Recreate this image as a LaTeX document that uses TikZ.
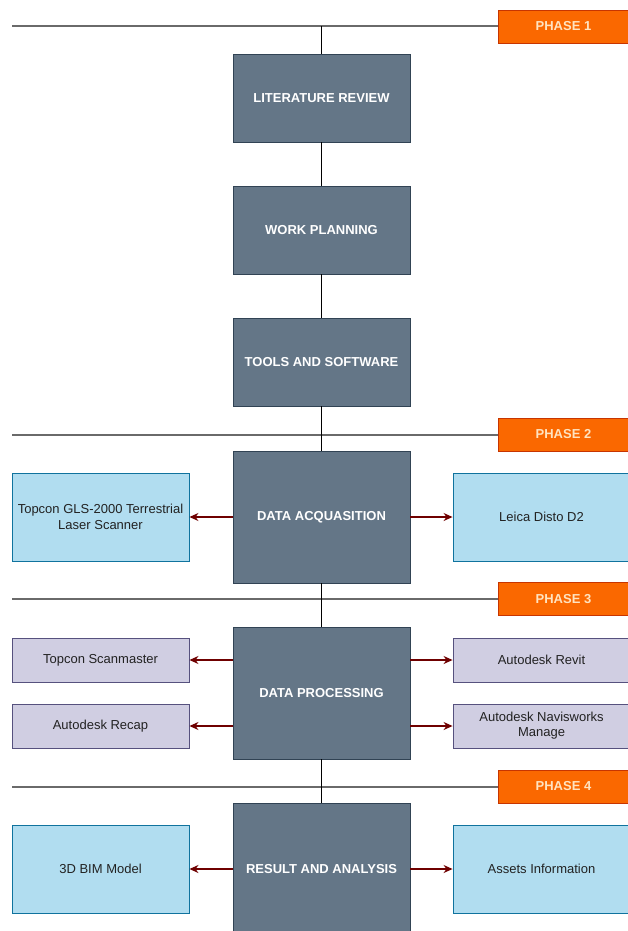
\documentclass[tikz,border=0pt]{standalone}
\usepackage{fontspec}
\setmainfont{Liberation Sans}
\usetikzlibrary{arrows.meta}
\definecolor{darkfill}{HTML}{647687}
\definecolor{darkline}{HTML}{314354}
\definecolor{bluefill}{HTML}{B1DDF0}
\definecolor{blueline}{HTML}{10739E}
\definecolor{lavfill}{HTML}{D0CEE2}
\definecolor{lavline}{HTML}{56517E}
\definecolor{orangefill}{HTML}{FA6800}
\definecolor{orangeline}{HTML}{C73500}
\definecolor{phasetext}{HTML}{FFE3C0}
\definecolor{arrowred}{HTML}{6F0000}
\definecolor{phaseline}{HTML}{6A6A6A}
\definecolor{sidetext}{HTML}{222222}
\begin{document}
\begin{tikzpicture}[x=1pt,y=-1pt,
  mainbox/.style={draw=darkline, fill=darkfill, line width=0.9pt, minimum width=177pt,
    text=white, font=\bfseries\fontsize{13}{16}\selectfont, inner sep=0pt, align=center},
  bluebox/.style={draw=blueline, fill=bluefill, line width=0.9pt, minimum width=177pt,
    minimum height=88pt, text=sidetext, font=\fontsize{13}{16}\selectfont, inner sep=0pt, align=center},
  lavbox/.style={draw=lavline, fill=lavfill, line width=0.9pt, minimum width=177pt,
    minimum height=44pt, text=sidetext, font=\fontsize{13}{15}\selectfont, inner sep=0pt, align=center},
  phasebox/.style={draw=orangeline, fill=orangefill, line width=0.9pt, minimum width=132pt,
    minimum height=33pt, text=phasetext, font=\bfseries\fontsize{13}{15}\selectfont, inner sep=0pt, anchor=west},
  phaserule/.style={draw=phaseline, line width=2pt},
  link/.style={draw=black, line width=1.2pt},
  outarrow/.style={draw=arrowred, line width=1.2pt, -{Stealth[length=9pt,width=8pt]}}
]
\useasboundingbox (0,0) rectangle (628,931);

% phase markers
\node[phasebox] (p1) at (498,26.5) {\hspace*{-2pt}PHASE 1};
\node[phasebox] (p2) at (498,434.5) {\hspace*{-2pt}PHASE 2};
\node[phasebox] (p3) at (498,599) {\hspace*{-2pt}PHASE 3};
\node[phasebox] (p4) at (498,786.5) {\hspace*{-2pt}PHASE 4};
\coordinate (l1) at (12,26.5);
\coordinate (l2) at (12,434.5);
\coordinate (l3) at (12,599);
\coordinate (l4) at (12,786.5);
\draw[phaserule] (l1) -- (p1.west);
\draw[phaserule] (l2) -- (p2.west);
\draw[phaserule] (l3) -- (p3.west);
\draw[phaserule] (l4) -- (p4.west);

% main boxes
\node[mainbox, minimum height=88pt] (lit) at (321.5,98) {LITERATURE REVIEW};
\node[mainbox, minimum height=88pt] (wp) at (321.5,230) {WORK PLANNING};
\node[mainbox, minimum height=88pt] (tools) at (321.5,362) {TOOLS AND SOFTWARE};
\node[mainbox, minimum height=132pt] (da) at (321.5,517) {DATA ACQUASITION};
\node[mainbox, minimum height=132pt] (dp) at (321.5,693) {DATA PROCESSING};
\node[mainbox, minimum height=132pt] (ra) at (321.5,869) {RESULT AND ANALYSIS};

\coordinate (top) at (321.5,26.5);
\draw[link] (top) -- (lit.north);
\draw[link] (lit) -- (wp);
\draw[link] (wp) -- (tools);
\draw[link] (tools) -- (da);
\draw[link] (da) -- (dp);
\draw[link] (dp) -- (ra);

% side boxes
\node[bluebox] (gls) at (100.5,517) {Topcon GLS-2000 Terrestrial\\Laser Scanner};
\node[bluebox] (leica) at (541.5,517) {Leica Disto D2};
\node[lavbox] (sm) at (100.5,660) {Topcon Scanmaster};
\node[lavbox] (rc) at (100.5,726) {Autodesk Recap};
\node[lavbox] (rv) at (541.5,660) {Autodesk Revit};
\node[lavbox] (nw) at (541.5,726) {Autodesk Navisworks\\Manage};
\node[bluebox] (bim) at (100.5,869) {3D BIM Model};
\node[bluebox] (ai) at (541.5,869) {Assets Information};

\draw[outarrow] (da.west) -- (gls.east);
\draw[outarrow] (da.east) -- (leica.west);
\draw[outarrow] (dp.west |- sm.east) -- (sm.east);
\draw[outarrow] (dp.west |- rc.east) -- (rc.east);
\draw[outarrow] (dp.east |- rv.west) -- (rv.west);
\draw[outarrow] (dp.east |- nw.west) -- (nw.west);
\draw[outarrow] (ra.west) -- (bim.east);
\draw[outarrow] (ra.east) -- (ai.west);
\end{tikzpicture}
\end{document}
